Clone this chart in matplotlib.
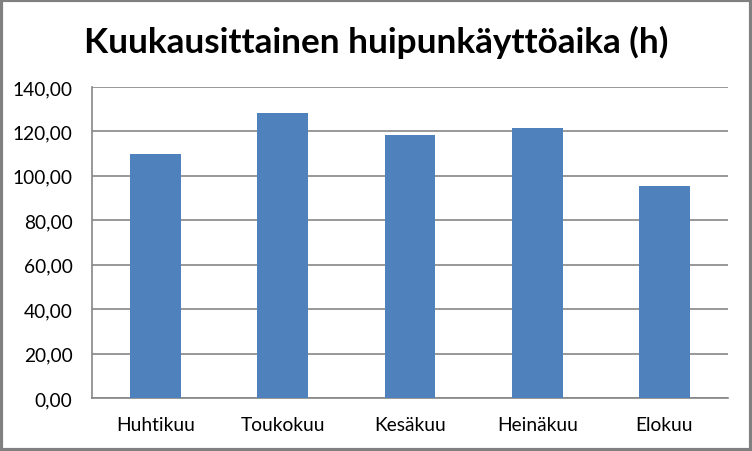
import matplotlib
matplotlib.use("Agg")
import matplotlib.pyplot as plt
from matplotlib.patches import Rectangle
from matplotlib.ticker import FuncFormatter

categories = ["Huhtikuu", "Toukokuu", "Kesäkuu", "Heinäkuu", "Elokuu"]
values = [110.0, 128.4, 118.5, 121.6, 95.5]
title = "Kuukausittainen huipunkäyttöaika (h)"

plt.rcParams['font.family'] = ['Lato', 'DejaVu Sans']

fig = plt.figure(figsize=(7.52, 4.52), dpi=100)
W, H = 752, 452
ax = fig.add_axes([92 / W, 1 - 399 / H, (728 - 92) / W, (399 - 88) / H])

x = list(range(len(categories)))
ax.bar(x, values, width=0.4, color="#4F81BD", zorder=3)
ax.set_xlim(-0.5, len(categories) - 0.5)
ax.set_ylim(0, 140)
ax.set_yticks(range(0, 141, 20))
ax.yaxis.set_major_formatter(FuncFormatter(lambda v, p: f"{v:.2f}".replace(".", ",")))
ax.set_xticks(x)
ax.set_xticklabels(categories)
ax.tick_params(axis="both", length=0, labelsize=13.8, colors="black")
ax.tick_params(axis="y", pad=14)
ax.tick_params(axis="x", pad=13)
ax.grid(axis="y", color="#868686", linewidth=1.2, zorder=0)
for s in ["top", "right"]:
    ax.spines[s].set_visible(False)
for s in ["left", "bottom"]:
    ax.spines[s].set_color("#868686")
    ax.spines[s].set_linewidth(1.2)

fig.text(376 / W, 1 - 42 / H, title, ha="center", va="center",
         fontsize=25.3, fontweight="bold")

fig.patches.append(Rectangle((0.0015, 0.003), 0.997, 0.994, transform=fig.transFigure,
                             fill=False, edgecolor="#808080", linewidth=3))

fig.savefig("out.png", dpi=100)
